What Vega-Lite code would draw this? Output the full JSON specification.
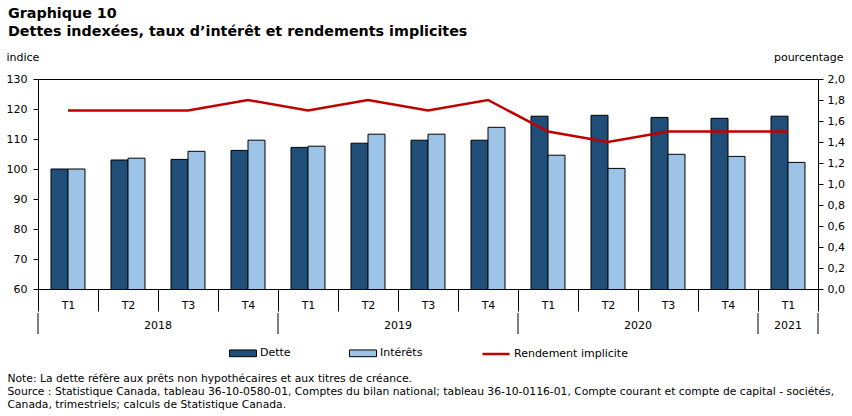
{
  "$schema": "https://vega.github.io/schema/vega-lite/v6.json",
  "padding": {"left": 5, "top": 6, "right": 5, "bottom": 0},
  "background": "white",
  "title": {
    "text": [
      "Note: La dette réfère aux prêts non hypothécaires et aux titres de créance.",
      "Source : Statistique Canada, tableau 36-10-0580-01, Comptes du bilan national; tableau 36-10-0116-01, Compte courant et compte de capital - sociétés,",
      "Canada, trimestriels; calculs de Statistique Canada."
    ],
    "orient": "bottom", "anchor": "start", "frame": "bounds", "dx": 2,
    "font": "DejaVu Sans", "fontSize": 10.75, "fontWeight": "normal", "lineHeight": 13, "color": "black",
    "offset": 15
  },
  "datasets": {
    "donnees": [
      {"periode": "2018 T1", "annee": "2018", "trimestre": "T1", "Dette": 100.0, "Intérêts": 100.0, "rendement": 1.7},
      {"periode": "2018 T2", "annee": "2018", "trimestre": "T2", "Dette": 103.0, "Intérêts": 103.6, "rendement": 1.7},
      {"periode": "2018 T3", "annee": "2018", "trimestre": "T3", "Dette": 103.2, "Intérêts": 105.9, "rendement": 1.7},
      {"periode": "2018 T4", "annee": "2018", "trimestre": "T4", "Dette": 106.2, "Intérêts": 109.6, "rendement": 1.8},
      {"periode": "2019 T1", "annee": "2019", "trimestre": "T1", "Dette": 107.2, "Intérêts": 107.6, "rendement": 1.7},
      {"periode": "2019 T2", "annee": "2019", "trimestre": "T2", "Dette": 108.6, "Intérêts": 111.6, "rendement": 1.8},
      {"periode": "2019 T3", "annee": "2019", "trimestre": "T3", "Dette": 109.6, "Intérêts": 111.6, "rendement": 1.7},
      {"periode": "2019 T4", "annee": "2019", "trimestre": "T4", "Dette": 109.6, "Intérêts": 113.9, "rendement": 1.8},
      {"periode": "2020 T1", "annee": "2020", "trimestre": "T1", "Dette": 117.6, "Intérêts": 104.6, "rendement": 1.5},
      {"periode": "2020 T2", "annee": "2020", "trimestre": "T2", "Dette": 117.9, "Intérêts": 100.2, "rendement": 1.4},
      {"periode": "2020 T3", "annee": "2020", "trimestre": "T3", "Dette": 117.2, "Intérêts": 104.9, "rendement": 1.5},
      {"periode": "2020 T4", "annee": "2020", "trimestre": "T4", "Dette": 116.9, "Intérêts": 104.2, "rendement": 1.5},
      {"periode": "2021 T1", "annee": "2021", "trimestre": "T1", "Dette": 117.6, "Intérêts": 102.2, "rendement": 1.5}
    ]
  },
  "spacing": 0,
  "resolve": {"scale": {"x": "shared"}},
  "vconcat": [
    {
      "title": {
        "text": ["Graphique  10", "Dettes indexées, taux d’intérêt et rendements implicites"],
        "anchor": "start", "frame": "bounds", "dx": 2, "font": "DejaVu Sans", "fontSize": 14.3,
        "fontWeight": "bold", "color": "black", "lineHeight": 18, "offset": 12
      },
      "width": 780,
      "height": 210,
      "data": {"name": "donnees"},
      "resolve": {"scale": {"y": "independent"}},
      "encoding": {
        "x": {
          "field": "periode", "type": "ordinal", "sort": null,
          "scale": {
            "domain": ["2018 T1", "2018 T2", "2018 T3", "2018 T4", "2019 T1", "2019 T2", "2019 T3", "2019 T4", "2020 T1", "2020 T2", "2020 T3", "2020 T4", "2021 T1"],
            "paddingInner": 0, "paddingOuter": 0
          },
          "axis": {"orient": "bottom", "title": null, "labelExpr": "substring(datum.label, 5)",
                   "ticks": true, "tickBand": "extent", "tickSize": 22, "domain": false,
                   "labelPadding": -12, "labelAngle": 0}
        }
      },
      "layer": [
        {
          "transform": [{"fold": ["Dette", "Intérêts"], "as": ["serie", "valeur"]}],
          "mark": {"type": "bar", "stroke": "black", "strokeWidth": 1, "clip": true},
          "encoding": {
            "xOffset": {
              "field": "serie", "type": "nominal",
              "scale": {"domain": ["Dette", "Intérêts"], "paddingInner": 0, "paddingOuter": 0.765}
            },
            "y": {
              "field": "valeur", "type": "quantitative",
              "scale": {"domain": [60, 130], "zero": false, "nice": false},
              "axis": {
                "orient": "left", "values": [60, 70, 80, 90, 100, 110, 120, 130],
                "domain": false, "tickSize": 5, "labelPadding": 6,
                "title": "indice", "titleAngle": 0, "titleAlign": "left",
                "titleBaseline": "alphabetic", "titleX": -32, "titleY": -19
              }
            },
            "fill": {
              "field": "serie", "type": "nominal",
              "scale": {"domain": ["Dette", "Intérêts"], "range": ["#1f4e79", "#9dc3e6"]},
              "legend": {
                "orient": "bottom", "direction": "horizontal", "title": null,
                "columnPadding": 56, "labelOffset": 3, "symbolSize": 729,
                "symbolType": "M-1,-0.25H1V0.25H-1Z", "symbolStrokeColor": "black", "symbolStrokeWidth": 1,
                "symbolOpacity": 1,
                "labelFont": "DejaVu Sans", "labelFontSize": 11, "labelColor": "black",
                "offset": 4
              }
            }
          }
        },
        {
          "mark": {"type": "line", "strokeWidth": 2.5},
          "encoding": {
            "y": {
              "field": "rendement", "type": "quantitative",
              "scale": {"domain": [0, 2], "nice": false},
              "axis": {
                "orient": "right", "values": [0, 0.2, 0.4, 0.6, 0.8, 1.0, 1.2, 1.4, 1.6, 1.8, 2.0],
                "labelExpr": "replace(format(datum.value, '.1f'), '.', ',')",
                "domain": false, "tickSize": 5, "labelPadding": 4,
                "title": "pourcentage", "titleAngle": 0, "titleAlign": "right",
                "titleBaseline": "alphabetic", "titleX": 25, "titleY": -19
              }
            },
            "stroke": {
              "datum": "Rendement implicite", "type": "nominal",
              "scale": {"domain": ["Rendement implicite"], "range": ["#c00000"]},
              "legend": {
                "orient": "bottom", "direction": "horizontal", "title": null,
                "labelOffset": 3, "symbolSize": 729, "symbolType": "stroke",
                "symbolStrokeWidth": 2.5, "symbolOpacity": 1,
                "labelFont": "DejaVu Sans", "labelFontSize": 11, "labelColor": "black",
                "offset": 4
              }
            }
          }
        }
      ]
    },
    {
      "width": 780,
      "height": 21,
      "view": {"stroke": null},
      "data": {"name": "donnees"},
      "layer": [
        {
          "transform": [{"filter": "datum.trimestre === 'T1'"}],
          "mark": {"type": "rule", "color": "black", "strokeWidth": 1},
          "encoding": {"x": {"field": "periode", "type": "ordinal", "sort": null, "bandPosition": 0, "axis": null}}
        },
        {
          "transform": [{"filter": "datum.periode === '2021 T1'"}],
          "mark": {"type": "rule", "color": "black", "strokeWidth": 1},
          "encoding": {"x": {"field": "periode", "type": "ordinal", "sort": null, "bandPosition": 1, "axis": null}}
        },
        {
          "transform": [{"filter": "datum.trimestre === 'T3'"}],
          "mark": {"type": "text", "font": "DejaVu Sans", "fontSize": 11, "color": "black", "baseline": "middle", "dy": 2},
          "encoding": {
            "x": {"field": "periode", "type": "ordinal", "sort": null, "bandPosition": 0, "axis": null},
            "text": {"field": "annee"}
          }
        },
        {
          "transform": [{"filter": "datum.periode === '2021 T1'"}],
          "mark": {"type": "text", "font": "DejaVu Sans", "fontSize": 11, "color": "black", "baseline": "middle", "dy": 2},
          "encoding": {
            "x": {"field": "periode", "type": "ordinal", "sort": null, "bandPosition": 0.5, "axis": null},
            "text": {"field": "annee"}
          }
        }
      ]
    }
  ],
  "config": {
    "view": {"stroke": "black", "strokeWidth": 1},
    "font": "DejaVu Sans",
    "axis": {
      "labelFont": "DejaVu Sans", "labelFontSize": 11, "labelColor": "black",
      "tickColor": "black", "domainColor": "black", "grid": false,
      "titleFont": "DejaVu Sans", "titleFontSize": 11, "titleFontWeight": "normal", "titleColor": "black"
    },
    "legend": {"layout": {"bottom": {"anchor": "middle", "direction": "horizontal", "margin": 58}}}
  }
}
